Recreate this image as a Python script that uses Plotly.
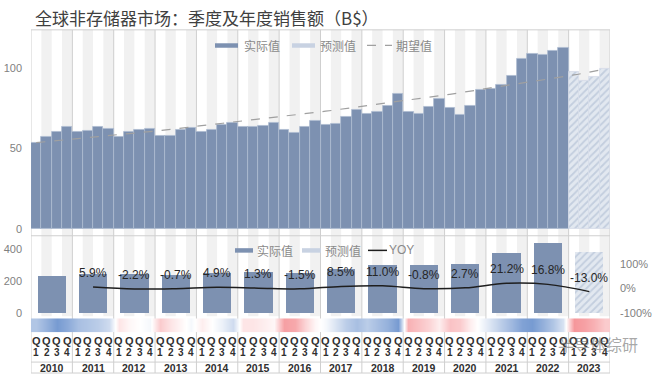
import plotly.graph_objects as go

W, H = 658, 380

# ---------------- data ----------------
years = ['2010', '2011', '2012', '2013', '2014', '2015', '2016',
         '2017', '2018', '2019', '2020', '2021', '2022', '2023']
quarter_names = ['1', '2', '3', '4']

# quarterly sales (B$), 2010Q1 .. 2022Q4 actual, 2023Q1..Q4 forecast
quarter_actual = [53.5, 57.2, 60.1, 63.2, 60.5, 61.1, 63.2, 62.3,
                  57.2, 60.5, 61.3, 62.3, 58.0, 58.0, 61.7, 62.8,
                  60.3, 61.3, 64.8, 65.8, 63.2, 63.2, 64.0, 65.8,
                  61.3, 59.7, 63.4, 67.1, 64.8, 65.4, 69.6, 74.1,
                  71.6, 72.8, 76.1, 83.8, 72.8, 71.6, 75.7, 80.7,
                  75.1, 70.8, 76.5, 86.4, 86.6, 89.1, 95.1, 105.6,
                  108.6, 108.0, 110.7, 112.5]
quarter_forecast = [97.3, 92.0, 94.2, 99.2]

# expected-value (trend) line, read at year starts and the last quarter
expected_q = [0, 4, 8, 12, 16, 20, 24, 28, 32, 36, 40, 44, 48, 52, 55]
expected_v = [53.5, 56.0, 58.5, 61.0, 64.0, 67.0, 70.0, 73.0, 76.5,
              80.0, 83.5, 87.5, 91.5, 95.5, 99.2]

# annual totals (B$)
annual_actual = [234, 247, 242, 241, 252, 256, 252, 273, 304, 301, 309, 375, 438]
annual_forecast = [381]
yoy_years = years[1:]
yoy_pct = [5.9, -2.2, -0.7, 4.9, 1.3, -1.5, 8.5, 11.0, -0.8, 2.7, 21.2, 16.8, -13.0]

# heat strip (growth intensity per quarter, + blue / - red)
heat_values = [0.40, 0.55, 0.70, 0.60, 0.45, 0.40, 0.35, 0.25,
               -0.15, -0.05, 0.00, 0.05, -0.30, -0.15, -0.05, 0.05,
               -0.10, 0.00, 0.10, 0.25, -0.15, -0.15, -0.10, -0.05,
               -0.55, -0.50, -0.25, -0.05, 0.05, 0.20, 0.35, 0.45,
               0.35, 0.45, 0.55, 0.70, -0.45, -0.35, -0.25, -0.10,
               -0.35, -0.30, -0.10, 0.05, 0.20, 0.35, 0.50, 0.65,
               0.70, 0.55, 0.40, 0.20, -0.60, -0.55, -0.45, -0.30]

# ---------------- style ----------------
BAR = '#7d91b1'
BAR_EDGE = '#aebbd0'
HATCH_BG = '#e2e8f0'
HATCH_FG = '#a3b3cc'
GRID = '#cfcfcf'
STRIPE = '#f1f1f1'
TXT = '#7f7f7f'
CJK = 'Noto Sans CJK SC'
LAT = 'Liberation Sans'

def px(x):
    return x / W

def py(y):
    return 1 - y / H

nq = len(years) * 4
q_actual_x = list(range(len(quarter_actual)))
q_fore_x = list(range(len(quarter_actual), nq))
year_centers = [i * 4 + 1.5 for i in range(len(years))]

fig = go.Figure()

# top chart
fig.add_trace(go.Bar(x=q_actual_x, y=quarter_actual, marker=dict(color=BAR, line=dict(color=BAR_EDGE, width=0.8)),
                     xaxis='x', yaxis='y', showlegend=False))
fig.add_trace(go.Bar(x=q_fore_x, y=quarter_forecast,
                     marker=dict(color=HATCH_BG, line=dict(color='#d5dce8', width=0.8),
                                 pattern=dict(shape='/', fgcolor=HATCH_FG, bgcolor=HATCH_BG, size=5, solidity=0.35)),
                     xaxis='x', yaxis='y', showlegend=False))
fig.add_trace(go.Scatter(x=expected_q, y=expected_v, mode='lines', line=dict(color='#a0a0a0', width=1.2, dash='dash', shape='spline'),
                         xaxis='x', yaxis='y', showlegend=False))

# bottom chart
fig.add_trace(go.Bar(x=year_centers[:len(annual_actual)], y=annual_actual, width=2.74,
                     marker=dict(color=BAR, line=dict(width=0)), xaxis='x2', yaxis='y2', showlegend=False))
fig.add_trace(go.Bar(x=year_centers[len(annual_actual):], y=annual_forecast, width=2.74,
                     marker=dict(color=HATCH_BG, line=dict(width=0),
                                 pattern=dict(shape='/', fgcolor=HATCH_FG, bgcolor=HATCH_BG, size=5, solidity=0.35)),
                     xaxis='x2', yaxis='y2', showlegend=False))
fig.add_trace(go.Scatter(x=year_centers[1:], y=[v / 100 for v in yoy_pct], mode='lines',
                         line=dict(color='#1e1e1e', width=1.5, shape='spline'),
                         xaxis='x2', yaxis='y3', showlegend=False))

# heat strip
fig.add_trace(go.Heatmap(x=list(range(nq)), y=[0, 1], z=[heat_values, heat_values], zmin=-1, zmax=1,
                         colorscale=[[0, '#ef5259'], [0.5, '#ffffff'], [1, '#3d70be']], zsmooth='best',
                         showscale=False, xaxis='x3', yaxis='y4', hoverinfo='skip'))

xdom = [px(31), px(610)]
xrng = [-0.5, nq - 0.5]
common_x = dict(domain=xdom, range=xrng, showticklabels=False, showgrid=False, zeroline=False, showline=False, ticks='', fixedrange=True)

fig.update_layout(
    width=W, height=H, margin=dict(l=0, r=0, t=0, b=0),
    paper_bgcolor='white', plot_bgcolor='rgba(0,0,0,0)',
    barmode='overlay', bargap=0, showlegend=False,
    xaxis=dict(anchor='y', **common_x),
    xaxis2=dict(anchor='y2', **common_x),
    xaxis3=dict(anchor='y4', **common_x),
    yaxis=dict(domain=[py(237), py(30)], range=[-4.3, 123.5], tickvals=[0, 50, 100], showgrid=False, zeroline=False,
               tickfont=dict(family=LAT, size=11, color=TXT), ticks='', ticklabelstandoff=8),
    yaxis2=dict(domain=[py(318), py(237)], range=[-23, 483], tickvals=[0, 200, 400], showgrid=False, zeroline=False,
                tickfont=dict(family=LAT, size=11, color=TXT), ticks='', ticklabelstandoff=8),
    yaxis3=dict(overlaying='y2', anchor='x2', side='right', range=[-1.143, 2.163], tickvals=[-1, 0, 1],
                ticktext=['-100%', '0%', '100%'], showgrid=False, zeroline=False,
                tickfont=dict(family=LAT, size=11, color=TXT), ticks='', ticklabelstandoff=9),
    yaxis4=dict(domain=[py(334), py(320)], range=[-0.5, 1.5], visible=False, fixedrange=True),
)

shapes = []
# alternating quarter stripes
for q in range(1, nq, 2):
    shapes.append(dict(type='rect', xref='x', yref='paper', x0=q - 0.5, x1=q + 0.5, y0=py(318), y1=py(30),
                       fillcolor=STRIPE, line=dict(width=0), layer='below'))
# year boundaries and frame
for k in range(0, len(years) + 1):
    xv = k * 4 - 0.5
    shapes.append(dict(type='line', xref='x', yref='paper', x0=xv, x1=xv, y0=py(375), y1=py(30),
                       line=dict(color=GRID, width=1), layer='below'))
for yy in [30, 237, 364, 375]:
    shapes.append(dict(type='line', xref='x', yref='paper', x0=-0.5, x1=nq - 0.5, y0=py(yy), y1=py(yy),
                       line=dict(color=GRID, width=1), layer='below'))

# legend swatches (top)
shapes.append(dict(type='rect', xref='paper', yref='paper', x0=px(215), x1=px(238), y0=py(48), y1=py(43.5),
                   fillcolor=BAR, line=dict(width=0)))
shapes.append(dict(type='rect', xref='paper', yref='paper', x0=px(292), x1=px(315), y0=py(48), y1=py(43.5),
                   fillcolor='#c8d2e2', line=dict(width=0)))
shapes.append(dict(type='line', xref='paper', yref='paper', x0=px(367), x1=px(392), y0=py(45.7), y1=py(45.7),
                   line=dict(color='#a0a0a0', width=1.2, dash='dash')))
# legend swatches (bottom)
shapes.append(dict(type='rect', xref='paper', yref='paper', x0=px(235), x1=px(253), y0=py(254), y1=py(249.5),
                   fillcolor=BAR, line=dict(width=0)))
shapes.append(dict(type='rect', xref='paper', yref='paper', x0=px(302), x1=px(321), y0=py(254), y1=py(249.5),
                   fillcolor='#c8d2e2', line=dict(width=0)))
shapes.append(dict(type='line', xref='paper', yref='paper', x0=px(368), x1=px(387), y0=py(251.7), y1=py(251.7),
                   line=dict(color='#1e1e1e', width=1.5)))

annotations = []
annotations.append(dict(text='全球非存储器市场：季度及年度销售额（B$）', xref='paper', yref='paper', x=px(33), y=py(18),
                        xanchor='left', yanchor='middle', showarrow=False,
                        font=dict(family=CJK, size=17, color='#404040')))
for txt, xx, yy in [('实际值', 242, 45.7), ('预测值', 318, 45.7), ('期望值', 394, 45.7),
                    ('实际值', 255, 251.7), ('预测值', 323, 251.7), ('YOY', 387, 251.7)]:
    annotations.append(dict(text=txt, xref='paper', yref='paper', x=px(xx), y=py(yy), xanchor='left', yanchor='middle',
                            showarrow=False, font=dict(family=CJK if txt != 'YOY' else LAT, size=12, color='#8a8a8a')))

# yoy value labels
for xc, v in zip(year_centers[1:], yoy_pct):
    annotations.append(dict(text=f'{v:.1f}%', xref='x2', yref='y3', x=xc, y=v / 100, yshift=14,
                            xanchor='center', yanchor='middle', showarrow=False,
                            font=dict(family=LAT, size=12, color='#262626')))

# quarter labels and year labels
for i, yr in enumerate(years):
    for j, qn in enumerate(quarter_names):
        q = i * 4 + j
        annotations.append(dict(text='<b>Q</b>', xref='x3', yref='paper', x=q, y=py(342.5), xanchor='center',
                                yanchor='middle', showarrow=False, font=dict(family=LAT, size=11, color='#303030')))
        annotations.append(dict(text=f'<b>{qn}</b>', xref='x3', yref='paper', x=q, y=py(354), xanchor='center',
                                yanchor='middle', showarrow=False, font=dict(family=LAT, size=10, color='#303030')))
    annotations.append(dict(text=f'<b>{yr}</b>', xref='x3', yref='paper', x=i * 4 + 1.5, y=py(370), xanchor='center',
                            yanchor='middle', showarrow=False, font=dict(family=LAT, size=10.5, color='#303030')))

# watermark
annotations.append(dict(text='半导体综研', xref='paper', yref='paper', x=px(556), y=py(346), xanchor='left',
                        yanchor='middle', showarrow=False, font=dict(family=CJK, size=16, color='rgba(110,110,110,0.6)')))

fig.update_layout(shapes=shapes, annotations=annotations)
fig.write_html('out.html', config={'displayModeBar': False},
               post_script="document.body.style.margin='0';document.body.style.overflow='hidden';")
